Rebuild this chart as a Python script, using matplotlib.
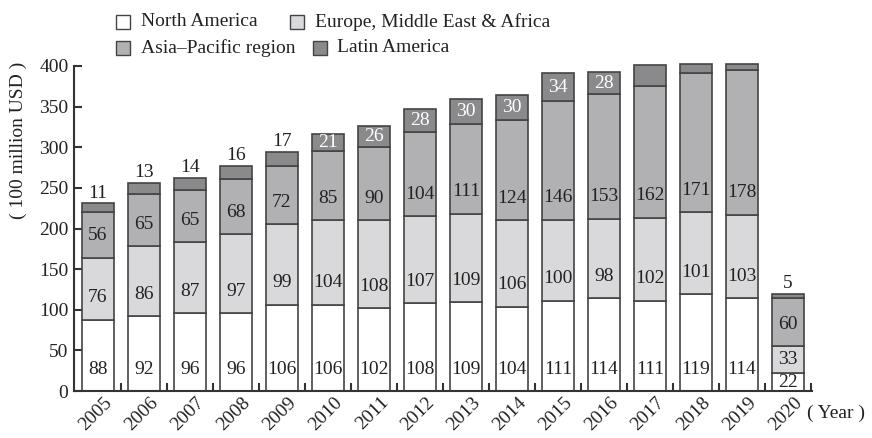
import matplotlib
matplotlib.use("Agg")
import matplotlib.pyplot as plt
import numpy as np
from matplotlib.patches import Rectangle
import matplotlib.transforms as mtrans

years = ["2005", "2006", "2007", "2008", "2009", "2010", "2011", "2012",
         "2013", "2014", "2015", "2016", "2017", "2018", "2019", "2020"]
north_america = [88, 92, 96, 96, 106, 106, 102, 108, 109, 104, 111, 114, 111, 119, 114, 22]
emea = [76, 86, 87, 97, 99, 104, 108, 107, 109, 106, 100, 98, 102, 101, 103, 33]
asia_pacific = [56, 65, 65, 68, 72, 85, 90, 104, 111, 124, 146, 153, 162, 171, 178, 60]
latin_america = [11, 13, 14, 16, 17, 21, 26, 28, 30, 30, 34, 28, 26, 11, 7, 5]
latam_label = ["above"] * 5 + ["inside"] * 7 + ["none"] * 3 + ["above"]

series_names = ["North America", "Europe, Middle East & Africa",
                "Asia\u2013Pacific region", "Latin America"]
colors = ["#ffffff", "#d9d9db", "#b1b1b4", "#8a8a8d"]
edge = "#444444"

plt.rcParams['font.family'] = ['Liberation Serif', 'DejaVu Serif']
W, H = 872, 438
fig = plt.figure(figsize=(W / 100, H / 100), dpi=100)
ax = fig.add_axes([74 / W, 1 - 391 / H, (812 - 74) / W, (391 - 66) / H])

x = np.arange(len(years))
data = [north_america, emea, asia_pacific, latin_america]
bottom = np.zeros(len(years))
fs = 14
for k, (vals, c) in enumerate(zip(data, colors)):
    vals = np.array(vals, dtype=float)
    bars = ax.bar(x, vals, 0.70, bottom=bottom, color=c, edgecolor=edge, linewidth=1.2, zorder=2)
    for b in bars:
        b.set_clip_on(False)
    for i, v in enumerate(vals):
        if k < 3:
            y = bottom[i] + min(27, v / 2)
            ax.text(x[i], y, f"{int(v)}", ha='center', va='center', fontsize=fs, color='#222222', zorder=3)
        else:
            mode = latam_label[i]
            if mode == "above":
                ax.text(x[i], bottom[i] + v + 2, f"{int(v)}", ha='center', va='bottom', fontsize=fs, color='#222222')
            elif mode == "inside":
                ax.text(x[i], bottom[i] + v / 2, f"{int(v)}", ha='center', va='center', fontsize=fs, color='white', zorder=3)
    bottom = bottom + vals

ax.set_xlim(-0.52, len(years) - 0.48)
ax.set_ylim(0, 400)
ax.set_yticks(np.arange(0, 401, 50))
ax.set_xticks(x)
ax.set_xticklabels(years, rotation=45, ha='right', va='top', rotation_mode='anchor', fontsize=fs)
ax.set_xticks(np.arange(0.5, len(years), 1.0), minor=True)
ax.tick_params(axis='x', which='major', length=0, pad=2, colors='#222222')
ax.tick_params(axis='x', which='minor', direction='in', length=6, width=1.5, color='#333333')
ax.tick_params(axis='y', direction='in', length=6, width=1.5, color='#333333', labelsize=fs, labelcolor='#222222', pad=4)
for s in ['top', 'right']:
    ax.spines[s].set_visible(False)
for s in ['left', 'bottom']:
    ax.spines[s].set_linewidth(1.5)
    ax.spines[s].set_color('#333333')

offset = mtrans.ScaledTranslation(6 / 100, 0, fig.dpi_scale_trans)
for lbl in ax.get_xticklabels():
    lbl.set_transform(lbl.get_transform() + offset)

fig.text(18 / W, 1 - 140 / H, "( 100 million USD )", rotation=90, ha='center', va='center', fontsize=fs, color='#222222')
fig.text(807 / W, 1 - 413 / H, "( Year )", ha='left', va='center', fontsize=fs, color='#222222')

legend_items = [
    (116, 22, 141, 0), (290, 22, 315, 1),
    (116, 48, 141, 2), (313, 48, 337, 3),
]
for bx, cy, tx, k in legend_items:
    fig.patches.append(Rectangle((bx / W, 1 - (cy + 7) / H), 14 / W, 14 / H,
                                 transform=fig.transFigure, facecolor=colors[k],
                                 edgecolor=edge, linewidth=1.0, figure=fig))
    fig.text(tx / W, 1 - cy / H, series_names[k], ha='left', va='center', fontsize=fs, color='#222222')

fig.savefig("out.png", dpi=100)
